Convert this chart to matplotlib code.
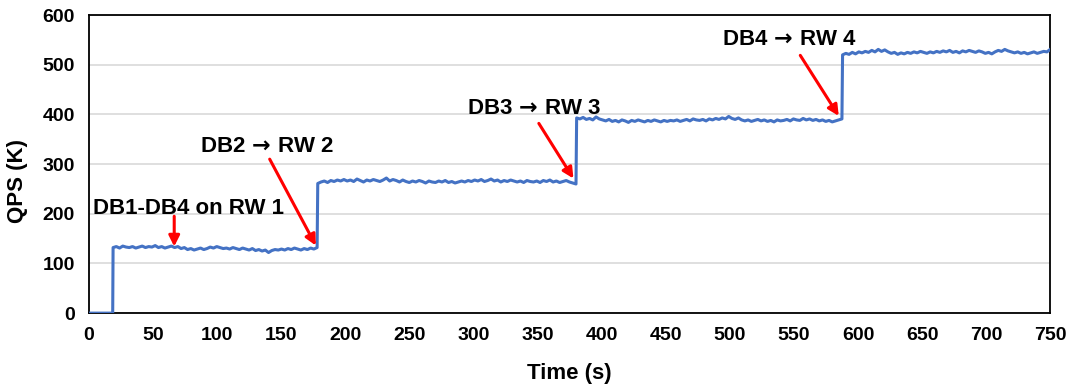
import numpy as np
import matplotlib
matplotlib.use("Agg")
import matplotlib.pyplot as plt

plt.rcParams['font.family'] = ['Liberation Sans', 'DejaVu Sans']
plt.rcParams['font.weight'] = 'bold'
plt.rcParams['mathtext.fontset'] = 'custom'
plt.rcParams['mathtext.rm'] = 'DejaVu Sans:bold'
plt.rcParams['mathtext.bf'] = 'DejaVu Sans:bold'

# idle before the load starts
idle_time = [0, 18.5]
idle_qps = [0, 0]

# QPS (K) during each phase (~2.5 s apart)
phase1_span = (18.8, 178.0)
phase1_qps = [132, 134, 131, 135, 133, 132, 134, 131, 133, 135, 132, 134, 133, 136, 132, 134, 131, 133, 135, 132, 134,
              130, 132, 128, 130, 127, 129, 131, 128,
              130, 133, 131, 134, 132, 130,
              131, 129, 132, 130, 128, 131, 129, 127, 130,
              126, 128, 125, 127, 122, 126, 128, 127,
              129, 127, 130, 128, 131, 129, 127, 130, 128, 131, 129, 132]

phase2_span = (178.5, 380.0)
phase2_qps = [261, 264, 266, 263, 267, 265, 268, 266,
              269, 266, 268, 265, 270, 267, 264, 268, 266, 269, 267, 265, 268, 272, 266, 269, 267, 264, 268,
              265, 263, 266, 264, 267, 265, 262, 266, 264, 263, 266, 264, 267, 263, 265, 262, 264, 266,
              264, 267, 265, 268, 266, 269, 265, 267, 270, 266, 268, 264, 267, 265, 268, 266,
              264, 266, 263, 267, 265, 264, 266, 263, 267, 265, 268, 264, 266, 263, 265, 267, 264, 262, 260]

phase3_span = (380.5, 587.5)
phase3_qps = [393, 391, 394, 390, 392, 389, 395, 391,
              389, 387, 390, 386, 388, 385, 389, 387, 384, 388, 386, 389, 387, 385, 388, 386, 389, 387, 385,
              388, 386, 388, 387, 389, 386,
              388, 390, 387, 391, 389, 388, 390, 387, 391, 389, 392, 390, 393,
              391, 396, 392, 390, 393, 389,
              387, 389, 386, 388, 390, 387, 389, 386, 388, 385, 389, 387, 388,
              390, 387, 391, 389, 388, 392, 389, 391, 388, 390, 387, 389,
              386, 388, 385, 387, 389, 391]

phase4_span = (588.0, 750.0)
phase4_qps = [520, 523, 521, 525, 522, 526, 524, 527, 525,
              529, 526, 531, 527, 530, 526,
              523, 525, 521, 524, 522, 525, 523,
              526, 524, 527, 525, 523, 526, 524,
              527, 525, 528, 526, 529, 525, 527, 524, 528, 526, 529, 527, 525, 528, 526,
              523, 525, 522,
              526, 529, 527, 531, 528, 526,
              524, 526, 523, 525, 522, 524, 526, 523,
              525, 527, 526, 531]

# annotations: label, text position (left, centre), arrow start, arrow tip
labels = ['DB1-DB4 on RW 1',
          r'DB2 $\!\mathbf{\rightarrow}\!$ RW 2',
          r'DB3 $\!\mathbf{\rightarrow}\!$ RW 3',
          r'DB4 $\!\mathbf{\rightarrow}\!$ RW 4']
label_xy = [(3, 210), (87, 336), (295, 413), (494, 550)]
arrow_from = [(66.5, 195), (141, 310), (351, 382), (555, 519)]
arrow_to = [(66.5, 134), (177, 136), (378, 271), (585, 397)]

time = list(idle_time)
qps = list(idle_qps)
for span, vals in [(phase1_span, phase1_qps), (phase2_span, phase2_qps),
                   (phase3_span, phase3_qps), (phase4_span, phase4_qps)]:
    time += list(np.linspace(span[0], span[1], len(vals)))
    qps += vals

fig = plt.figure(figsize=(10.8, 3.88), dpi=100)
ax = fig.add_axes([0.0824, 0.193, 0.890, 0.768])

ax.plot(time, qps, color='#4472C4', lw=2.2, zorder=3)

for lab, pos, a0, a1 in zip(labels, label_xy, arrow_from, arrow_to):
    ax.text(pos[0], pos[1], lab, fontsize=16, fontweight='bold', ha='left', va='center')
    ax.annotate('', xy=a1, xytext=a0,
                arrowprops=dict(arrowstyle='-|>', color='#ff0000', lw=2.2,
                                mutation_scale=16, shrinkA=0, shrinkB=0),
                zorder=4)

ax.set_xlim(0, 750)
ax.set_ylim(0, 600)
ax.set_xticks(np.arange(0, 751, 50))
ax.set_yticks(np.arange(0, 601, 100))
ax.tick_params(length=0, labelsize=14, pad=10)
for t in ax.get_xticklabels() + ax.get_yticklabels():
    t.set_fontweight('bold')
ax.yaxis.grid(True, color='#d9d9d9', lw=1.2)
ax.set_axisbelow(True)
for s in ax.spines.values():
    s.set_color('black')
    s.set_linewidth(1.3)

ax.set_xlabel('Time (s)', fontsize=16, fontweight='bold', labelpad=14)
ax.set_ylabel('QPS (K)', fontsize=16, fontweight='bold')
ax.yaxis.set_label_coords(-0.0635, 0.443)

fig.savefig('out.png', dpi=100)
